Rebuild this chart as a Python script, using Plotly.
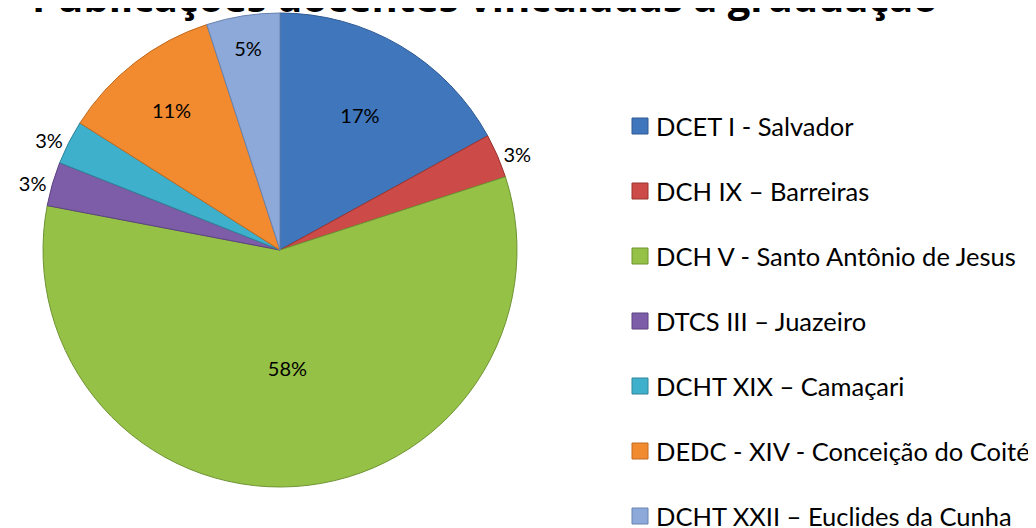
import plotly.graph_objects as go

title_text = "Publicações docentes vinculadas à graduação"
labels = [
    "DCET I - Salvador",
    "DCH IX – Barreiras",
    "DCH V - Santo Antônio de Jesus",
    "DTCS III – Juazeiro",
    "DCHT XIX – Camaçari",
    "DEDC - XIV - Conceição do Coité",
    "DCHT XXII – Euclides da Cunha",
]
values = [17, 3, 58, 3, 3, 11, 5]
colors = ["#3F76BC", "#CC4A47", "#95C147", "#7D5DA8", "#3FB0CB", "#F28B30", "#8CA9DA"]
edge_colors = ["#2E5A93", "#9A3431", "#6F9433", "#5C4280", "#2E8499", "#C06A20", "#6983B0"]
text_positions = ["inside", "outside", "inside", "outside", "outside", "inside", "inside"]

W, H = 1036, 528
# the page body adds an 8px offset; positions below are page-corrected
cx, cy, r = 272, 242, 237

fig = go.Figure()
fig.add_trace(go.Pie(
    labels=labels,
    values=values,
    sort=False,
    direction="clockwise",
    rotation=0,
    marker=dict(colors=colors, line=dict(color=edge_colors, width=1)),
    textinfo="percent",
    texttemplate="%{percent:.0%}",
    textposition=text_positions,
    insidetextorientation="horizontal",
    textfont=dict(family="Lato", size=20, color="#000000"),
    insidetextfont=dict(family="Lato", size=20, color="#000000"),
    outsidetextfont=dict(family="Lato", size=20, color="#000000"),
    showlegend=False,
    domain=dict(x=[(cx - r) / W, (cx + r) / W], y=[1 - (cy + r) / H, 1 - (cy - r) / H]),
    hoverinfo="label+percent",
))

# custom legend (spaced like the original)
lx0, ly0, gap, sq = 624, 118, 65, 16
for i, (lab, col) in enumerate(zip(labels, colors)):
    yc = ly0 + i * gap
    fig.add_shape(type="rect", xref="paper", yref="paper",
                  x0=lx0 / W, x1=(lx0 + sq) / W,
                  y0=1 - (yc + sq / 2) / H, y1=1 - (yc - sq / 2) / H,
                  fillcolor=col, line=dict(color=edge_colors[i], width=1))
    fig.add_annotation(text=lab, xref="paper", yref="paper",
                       x=(lx0 + sq + 6) / W, y=1 - yc / H,
                       xanchor="left", yanchor="middle", showarrow=False,
                       font=dict(family="Lato", size=25.5, color="#000000"))

fig.add_annotation(text="<b>" + title_text + "</b>", xref="paper", yref="paper",
                   x=477 / W, y=1 - 18 / H, xanchor="center", yanchor="bottom",
                   showarrow=False,
                   font=dict(family="Open Sans", size=40, color="#000000"))

fig.update_layout(
    width=W, height=H,
    margin=dict(l=0, r=0, t=0, b=0),
    paper_bgcolor="white",
    plot_bgcolor="white",
)

fig.write_html("out.html")
